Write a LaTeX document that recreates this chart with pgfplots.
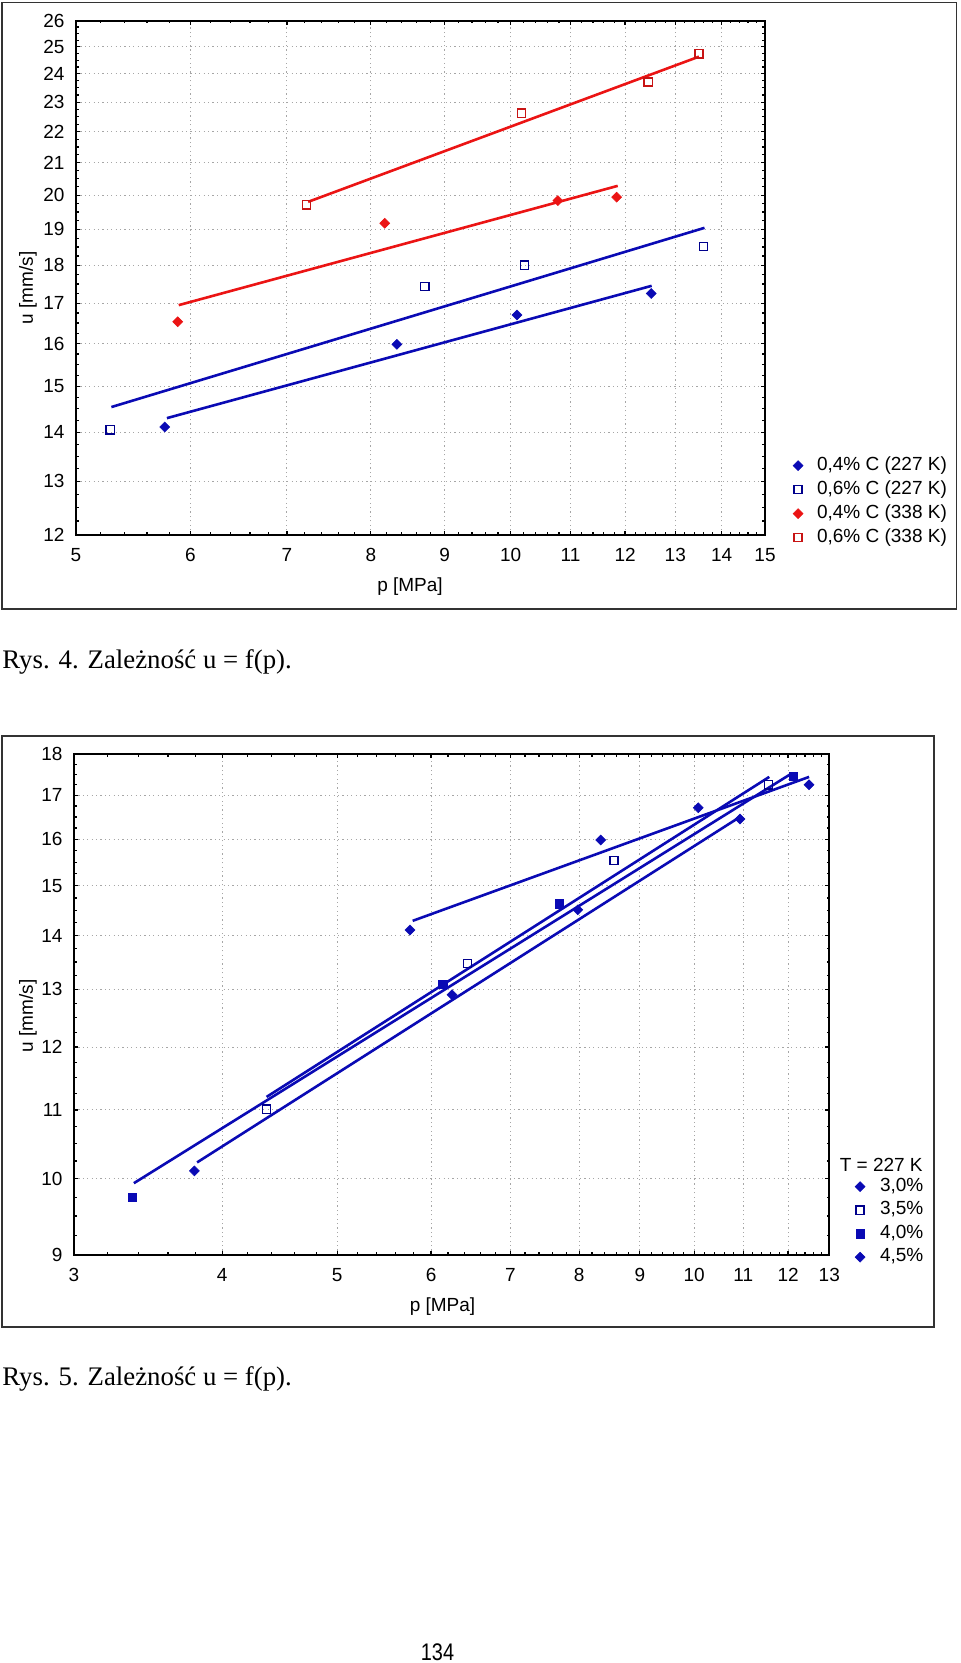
\documentclass[border=0pt]{standalone}
\usepackage{fontspec}
\setmainfont{Liberation Sans}
\newfontfamily\capfont{Liberation Serif}
\usepackage{graphicx}
\usepackage{pgfplots}
\pgfplotsset{compat=1.18}
\definecolor{myblue}{RGB}{10,10,180}
\definecolor{myblueo}{RGB}{0,0,140}
\definecolor{myred}{RGB}{235,20,20}
\definecolor{myredo}{RGB}{200,20,20}
\newcommand{\chf}{\fontsize{9.5pt}{11pt}\selectfont}
\pgfplotsset{
  statstyle/.style={
    scale only axis,
    axis line style={line width=1pt},
    tick align=inside,
    major tick length=2pt, minor tick length=1.3pt,
    every tick/.style={black, line width=0.6pt},
    grid=major,
    major grid style={gray!70, line width=0.5pt, dash pattern=on 0.6pt off 1.6pt},
    tick label style={font=\chf},
    label style={font=\chf},
    /pgf/number format/assume math mode=true,
    xticklabel style={yshift=-3.2pt},
    yticklabel style={xshift=-2.2pt},
    legend cell align=left,
    legend style={draw=none, fill=none, inner sep=0pt, outer sep=0pt,
      font=\chf, anchor=north west,
      nodes={inner xsep=0pt, inner ysep=0pt, text height=6.8pt, text depth=2pt},
      /tikz/every odd column/.append style={column sep=7pt}},
  },
  bdia/.style={only marks, mark=square*, mark size=1.75pt, mark options={rotate=45, line width=0.3pt, draw=myblue, fill=myblue}},
  bsq/.style={only marks, mark=square, mark size=2.05pt, mark options={line width=0.7pt, draw=myblueo}},
  bsqf/.style={only marks, mark=square*, mark size=2.1pt, mark options={line width=0.3pt, draw=myblue, fill=myblue}},
  rdia/.style={only marks, mark=square*, mark size=1.75pt, mark options={rotate=45, line width=0.3pt, draw=myred, fill=myred}},
  rsq/.style={only marks, mark=square, mark size=2.05pt, mark options={line width=0.7pt, draw=myredo}},
  fitb/.style={forget plot, no marks, myblue, line width=1.3pt},
  fitr/.style={forget plot, no marks, myred, line width=1.3pt},
}
\begin{document}
\begin{tikzpicture}
\path[use as bounding box] (0,0) rectangle (480pt,-831.5pt);
% frames
\draw[line width=0.7pt, black!80] (1pt,-1.35pt) rectangle (478.35pt,-304.5pt);
\draw[line width=0.7pt, black!80] (1pt,-368pt) rectangle (467pt,-663.5pt);

% ---------------- Chart 1 ----------------
\begin{loglogaxis}[statstyle, at={(38pt,-267.35pt)}, anchor=south west,
  width=344.5pt, height=257pt,
  xmin=5, xmax=15, ymin=12, ymax=26,
  xtick={5,6,7,8,9,10,11,12,13,14,15},
  xticklabels={5,6,7,8,9,10,11,12,13,14,15},
  ytick={12,13,14,15,16,17,18,19,20,21,22,23,24,25,26},
  yticklabels={12,13,14,15,16,17,18,19,20,21,22,23,24,25,26},
  minor xtick={5.2,5.4,5.6,5.8,6.2,6.4,6.6,6.8,7.2,7.4,7.6,7.8,8.2,8.4,8.6,8.8,9.2,9.4,9.6,9.8,10.2,10.4,10.6,10.8,11.2,11.4,11.6,11.8,12.2,12.4,12.6,12.8,13.2,13.4,13.6,13.8,14.2,14.4,14.6,14.8},
  minor ytick={12.25,12.5,12.75,13.25,13.5,13.75,14.25,14.5,14.75,15.25,15.5,15.75,16.25,16.5,16.75,17.25,17.5,17.75,18.25,18.5,18.75,19.25,19.5,19.75,20.25,20.5,20.75,21.25,21.5,21.75,22.25,22.5,22.75,23.25,23.5,23.75,24.25,24.5,24.75,25.25,25.5,25.75},
  xlabel={p [MPa]}, ylabel={u [mm/s]},
  xlabel style={at={(axis description cs:0.4848,-0.1018)}, anchor=center},
  ylabel style={at={(axis description cs:-0.0697,0.48)}, anchor=center},
  legend image code/.code={\draw[mark repeat=2,mark phase=2,#1] plot coordinates {(0pt,0pt)(1pt,0pt)(2pt,0pt)};},
  legend style={at={(axis description cs:1.0408,0.1514)}, row sep=3.2pt},
]
\addplot[fitb] coordinates {(5.78,14.30) (12.52,17.45)};
\addplot[fitb] coordinates {(5.29,14.54) (13.62,19.04)};
\addplot[fitr] coordinates {(5.89,16.95) (11.86,20.28)};
\addplot[fitr] coordinates {(7.24,19.80) (13.50,24.63)};
\addplot[bdia] coordinates {(5.76,14.11) (8.34,15.98) (10.10,16.70) (12.51,17.25)};
\addlegendentry{0,4\% C (227 K)}
\addplot[bsq] coordinates {(5.28,14.05) (8.72,17.43) (10.22,18.00) (13.60,18.51)};
\addlegendentry{0,6\% C (227 K)}
\addplot[rdia] coordinates {(5.88,16.53) (8.18,19.17) (10.78,19.84) (11.84,19.94)};
\addlegendentry{0,4\% C (338 K)}
\addplot[rsq] coordinates {(7.22,19.71) (10.17,22.62) (12.45,23.71) (13.50,24.74)};
\addlegendentry{0,6\% C (338 K)}
\end{loglogaxis}

% ---------------- Chart 2 ----------------
\begin{loglogaxis}[statstyle, at={(37pt,-627.5pt)}, anchor=south west,
  width=377.65pt, height=250.5pt,
  xmin=3, xmax=13, ymin=9, ymax=18,
  xtick={3,4,5,6,7,8,9,10,11,12,13},
  xticklabels={3,4,5,6,7,8,9,10,11,12,13},
  ytick={9,10,11,12,13,14,15,16,17,18},
  yticklabels={9,10,11,12,13,14,15,16,17,18},
  minor xtick={3.2,3.4,3.6,3.8,4.2,4.4,4.6,4.8,5.2,5.4,5.6,5.8,6.2,6.4,6.6,6.8,7.2,7.4,7.6,7.8,8.2,8.4,8.6,8.8,9.2,9.4,9.6,9.8,10.2,10.4,10.6,10.8,11.2,11.4,11.6,11.8,12.2,12.4,12.6,12.8},
  minor ytick={9.25,9.5,9.75,10.25,10.5,10.75,11.25,11.5,11.75,12.25,12.5,12.75,13.25,13.5,13.75,14.25,14.5,14.75,15.25,15.5,15.75,16.25,16.5,16.75,17.25,17.5,17.75},
  xlabel={p [MPa]}, ylabel={u [mm/s]},
  xlabel style={at={(axis description cs:0.4879,-0.1038)}, anchor=center},
  ylabel style={at={(axis description cs:-0.0609,0.477)}, anchor=center},
  legend image code/.code={\draw[mark repeat=2,mark phase=2,#1] plot coordinates {(0pt,0pt)(1pt,0pt)(2pt,0pt)};},
  legend style={at={(axis description cs:1.0342,0.1539)}, row sep=2.95pt,
    /tikz/every odd column/.append style={column sep=7.5pt}},
]
\addplot[fitb] coordinates {(5.79,14.29) (12.50,17.44)};
\addplot[fitb] coordinates {(4.36,11.20) (11.57,17.44)};
\addplot[fitb] coordinates {(3.37,9.94) (12.08,17.52)};
\addplot[fitb] coordinates {(3.81,10.23) (10.93,16.50)};
\addplot[bdia] coordinates {(5.76,14.11) (8.34,15.98) (10.08,16.71) (12.50,17.25)};
\addlegendentry{3,0\%}
\addplot[bsq] coordinates {(4.36,11.01) (6.44,13.47) (8.56,15.53) (11.55,17.25)};
\addlegendentry{3,5\%}
\addplot[bsqf] coordinates {(3.36,9.75) (6.14,13.09) (7.70,14.63) (12.12,17.45)};
\addlegendentry{4,0\%}
\addplot[bdia] coordinates {(3.79,10.11) (6.25,12.90) (7.98,14.51) (10.93,16.45)};
\addlegendentry{4,5\%}
\end{loglogaxis}
\node[font=\chf] at (440.6pt,-582.5pt) {T = 227 K};

% captions
\node[anchor=base west, inner sep=0pt, font=\capfont\fontsize{13.4pt}{15pt}\selectfont] at (1pt,-334pt) {Rys. 4. Zależność u = f(p).};
\node[anchor=base west, inner sep=0pt, font=\capfont\fontsize{13.4pt}{15pt}\selectfont] at (1pt,-692.5pt) {Rys. 5. Zależność u = f(p).};
\node[anchor=base, inner sep=0pt, font=\fontsize{12pt}{14pt}\selectfont] at (218.75pt,-830.3pt) {\scalebox{0.83}[1]{134}};
\end{tikzpicture}
\end{document}
